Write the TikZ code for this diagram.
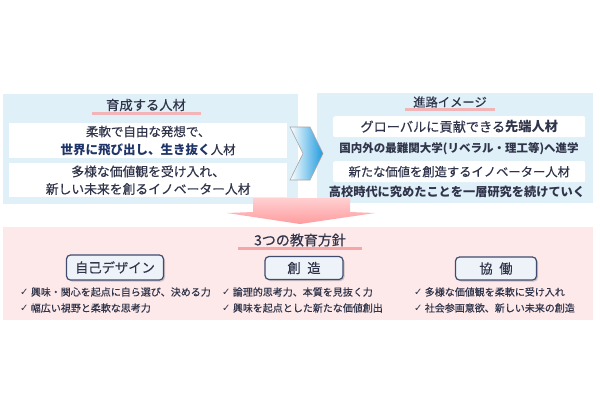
\documentclass[tikz,border=0pt]{standalone}
\usepackage{fontspec}
\setmainfont{Noto Sans CJK JP}[UprightFeatures={FakeBold=0.4}]
\newfontfamily\sym{DejaVu Sans}
\usetikzlibrary{shadows}
\definecolor{panelblue}{HTML}{DFF0F8}
\definecolor{panelpink}{HTML}{FDE9EA}
\definecolor{uline}{HTML}{F2B4B6}
\definecolor{ulinestrong}{HTML}{F7A6A8}
\definecolor{txt}{HTML}{30344A}
\definecolor{navy}{HTML}{1F3468}
\definecolor{btnborder}{HTML}{3F4C70}
\definecolor{btnfill}{HTML}{EEF3F9}
\definecolor{arrowpink}{HTML}{FF9C9E}
\definecolor{arrowlight}{HTML}{FFD0D2}
\definecolor{chevblue}{HTML}{1E9BE0}
\newcommand{\fs}[1]{\fontsize{#1}{#1}\selectfont}
\newcommand{\chk}{{\sym\bfseries ✓}\ }
\tikzset{
  panel/.style={fill=#1, draw=none, inner sep=0pt, anchor=north west},
  whitebox/.style={fill=white, draw=none, inner sep=0pt, anchor=north west},
  titletext/.style={text=txt, inner sep=0pt},
  underline/.style={fill=#1, draw=none, inner sep=0pt, minimum height=3pt},
  boxtext/.style={text=txt, inner sep=0pt, align=center},
  plaintext/.style={text=txt, inner sep=0pt, font=\bfseries},
  btn/.style={draw=btnborder, line width=1.2pt, fill=btnfill, rounded corners=4pt,
    inner sep=0pt, text=txt, font=\fs{13.3},
    drop shadow={shadow xshift=1.5pt, shadow yshift=-1.5pt, opacity=0.4}},
  bullet/.style={text=txt, inner sep=0pt, anchor=west, font=\fs{10}}
}
\begin{document}
\begin{tikzpicture}[x=1pt,y=-1pt]
\useasboundingbox[fill=white] (0,0) rectangle (600,400);

% top panels
\node[panel=panelblue, minimum width=295pt, minimum height=110pt] (lp) at (3,94) {};
\node[panel=panelblue, minimum width=276pt, minimum height=110pt] (rp) at (317,93) {};

% left panel
\node[underline=uline, minimum width=109pt] (ltu) at (146,113) {};
\node[titletext, font=\fs{13.3}] (lt) at (146,105) {育成する人材};
\node[whitebox, minimum width=278pt, minimum height=35pt] (lb1) at (9,123) {};
\node[whitebox, minimum width=278pt, minimum height=34pt] (lb2) at (9,163) {};
\node[boxtext, font=\fontsize{12.5}{18}\selectfont] (lb1t) at (lb1.center)
  {柔軟で自由な発想で、\\{\bfseries\color{navy}世界に飛び出し、生き抜く}人材};
\node[boxtext, font=\fontsize{12.8}{17.5}\selectfont] (lb2t) at (lb2.center)
  {多様な価値観を受け入れ、\\新しい未来を創るイノベーター人材};

% right panel
\node[underline=uline, minimum width=90pt] (rtu) at (450,109.5) {};
\node[titletext, font=\fs{12.3}] (rt) at (450,102) {進路イメージ};
\node[whitebox, rounded corners=2pt, minimum width=252pt, minimum height=21pt] (rb1) at (333,116) {};
\node[whitebox, rounded corners=2pt, minimum width=252pt, minimum height=21pt] (rb2) at (333,161) {};
\node[boxtext, font=\fs{13.2}] (rb1t) at (rb1.center) {グローバルに貢献できる{\bfseries 先端人材}};
\node[boxtext, font=\fs{12.3}] (rb2t) at (rb2.center) {新たな価値を創造するイノベーター人材};
\node[plaintext, font=\fs{11.5}\bfseries] (rl1) at (459,149) {国内外の最難関大学(リベラル・理工等)へ進学};
\node[plaintext, font=\fs{12.2}\bfseries] (rl2) at (457,192) {高校時代に究めたことを一層研究を続けていく};

% chevron
\shade[left color=white, right color=chevblue, draw=gray!70, line width=0.6pt]
  (290,127) -- (310,127) -- (323,153.5) -- (310,180) -- (290,180) -- (303,153.5) -- cycle;

% bottom panel
\node[panel=panelpink, minimum width=590pt, minimum height=93pt] (bp) at (3,227) {};

% big pink arrow
\shade[top color=arrowlight, bottom color=arrowpink, draw=none]
  (253,198) -- (350,198) -- (350,212) -- (375,213) -- (300,224) -- (227,213) -- (253,212) -- cycle;

% bottom title
\node[underline=ulinestrong, minimum width=124pt] (btu) at (300,248) {};
\node[titletext, font=\fs{14}] (bt) at (300,240) {3つの教育方針};

% buttons
\node[btn, minimum width=97pt, minimum height=25pt] (b1) at (115,267.5) {自己デザイン};
\node[btn, minimum width=78pt, minimum height=23pt] (b2) at (304,268) {創\hspace{0.5em}造};
\node[btn, minimum width=81pt, minimum height=23pt] (b3) at (496,268.5) {協\hspace{0.5em}働};

% bullets
\node[bullet] (c1a) at (20,292) {\chk 興味・関心を起点に自ら選び、決める力};
\node[bullet] (c1b) at (20,308) {\chk 幅広い視野と柔軟な思考力};
\node[bullet] (c2a) at (222,292) {\chk 論理的思考力、本質を見抜く力};
\node[bullet] (c2b) at (222,308) {\chk 興味を起点とした新たな価値創出};
\node[bullet] (c3a) at (414,292) {\chk 多様な価値観を柔軟に受け入れ};
\node[bullet] (c3b) at (414,308) {\chk 社会参画意欲、新しい未来の創造};
\end{tikzpicture}
\end{document}
